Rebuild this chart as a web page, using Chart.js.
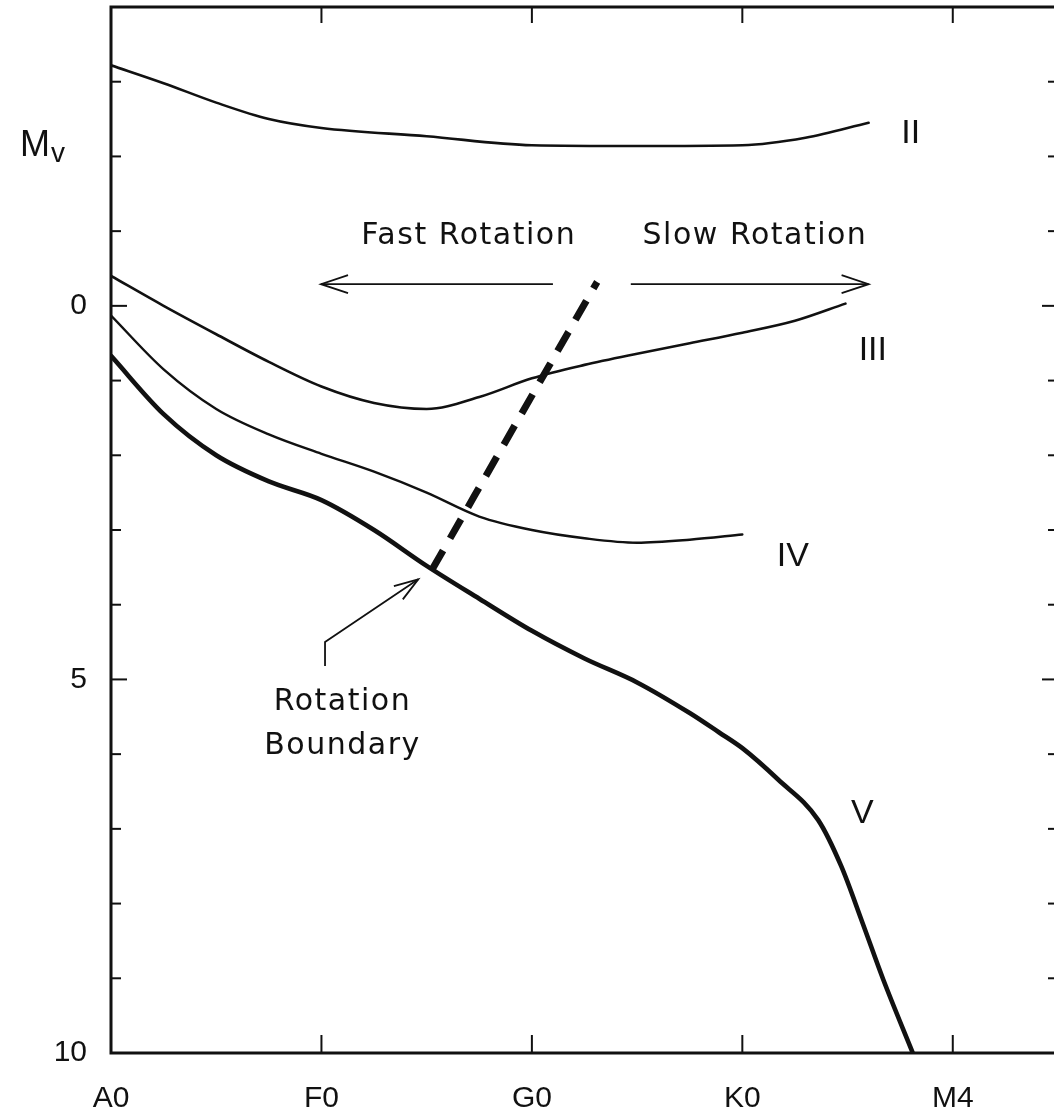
<!DOCTYPE html>
<html>
<head>
<meta charset="utf-8">
<title>Rotation boundary in the HR diagram</title>
<script src="https://cdn.jsdelivr.net/npm/chart.js@4.4.1/dist/chart.umd.min.js"></script>
<style>
  html, body { margin: 0; padding: 0; background: #fff; overflow: hidden; }
  #wrap { position: relative; width: 1070px; height: 1114px; }
</style>
</head>
<body>
<div id="wrap"><canvas id="hrChart"></canvas></div>
<script>
// spectral type labels, placed at x = 0, 1, 2, ...
const spectralTypes = ['A0', 'F0', 'G0', 'K0', 'M4']
// labelled Mv ticks
const mvLabels = [0, 5, 10]

// luminosity class II
const classII_x = [0, 0.25, 0.5, 0.75, 1.0, 1.5, 2.0, 2.5, 3.0, 3.3, 3.6]
const classII_y = [-3.22, -2.98, -2.72, -2.5, -2.38, -2.27, -2.15, -2.14, -2.15, -2.25, -2.45]

// luminosity class III
const classIII_x = [0, 0.25, 0.5, 0.75, 1.0, 1.25, 1.5, 1.75, 2.0, 2.25, 2.5, 2.75, 3.0, 3.25, 3.49]
const classIII_y = [-0.4, 0.0, 0.38, 0.75, 1.08, 1.3, 1.38, 1.22, 0.97, 0.79, 0.64, 0.5, 0.36, 0.2, -0.03]

// luminosity class IV
const classIV_x = [0, 0.25, 0.5, 0.75, 1.0, 1.25, 1.5, 1.75, 2.0, 2.25, 2.5, 2.75, 3.0]
const classIV_y = [0.13, 0.85, 1.38, 1.72, 1.98, 2.22, 2.5, 2.82, 3.0, 3.11, 3.17, 3.13, 3.06]

// main sequence (class V)
const classV_x = [0, 0.25, 0.5, 0.75, 1.0, 1.25, 1.5, 1.75, 2.0, 2.25, 2.5, 2.75, 2.89, 3.0, 3.17, 3.36, 3.47, 3.57, 3.67, 3.81]
const classV_y = [0.67, 1.45, 2.0, 2.35, 2.6, 3.0, 3.48, 3.92, 4.35, 4.72, 5.04, 5.45, 5.71, 5.92, 6.34, 6.88, 7.5, 8.25, 9.02, 10]

// rotation boundary (dashed)
const boundary_x = [1.526, 2.31]
const boundary_y = [3.53, -0.32]

const ink = '#111'
const textFont = '"DejaVu Sans", sans-serif'
const axisFont = '"Liberation Sans Narrow", "Liberation Sans", Arial, sans-serif'

const pts = (xs, ys) => xs.map((x, i) => ({ x: x, y: ys[i] }))

function curve(label, xs, ys, width, dash) {
  return {
    label: label,
    data: pts(xs, ys),
    borderColor: ink,
    borderWidth: width,
    borderDash: dash || [],
    borderCapStyle: dash ? 'butt' : 'round',
    pointRadius: 0,
    fill: false,
    cubicInterpolationMode: 'monotone'
  }
}

function arrowHead(ctx, tx, ty, fx, fy, len, half) {
  const a = Math.atan2(ty - fy, tx - fx)
  ctx.beginPath()
  ctx.moveTo(tx - len * Math.cos(a) + half * Math.sin(a), ty - len * Math.sin(a) - half * Math.cos(a))
  ctx.lineTo(tx, ty)
  ctx.lineTo(tx - len * Math.cos(a) - half * Math.sin(a), ty - len * Math.sin(a) + half * Math.cos(a))
  ctx.stroke()
}

// no extra room for half tick labels at the ends
function noPad(scale) {
  scale.paddingTop = 0
  scale.paddingBottom = 0
  scale.paddingLeft = 0
  scale.paddingRight = 0
}

// frame, inward ticks, arrows and text labels
const sketchPlugin = {
  id: 'sketch',
  afterDraw(chart) {
    const { ctx, chartArea: a, scales: { x, y } } = chart
    const seg = (x1, y1, x2, y2) => { ctx.beginPath(); ctx.moveTo(x1, y1); ctx.lineTo(x2, y2); ctx.stroke() }
    ctx.save()
    ctx.strokeStyle = ink
    ctx.fillStyle = ink
    ctx.lineCap = 'butt'

    ctx.lineWidth = 3
    ctx.strokeRect(a.left, a.top, a.right - a.left, a.bottom - a.top)

    ctx.lineWidth = 2
    y.ticks.forEach(t => {
      if (t.value <= y.min) return
      const py = y.getPixelForValue(t.value)
      const len = t.value % 5 === 0 ? 16 : 10
      seg(a.left, py, a.left + len, py)
      seg(a.right, py, a.right - len, py)
    })
    spectralTypes.forEach((s, i) => {
      if (i === 0) return
      const px = x.getPixelForValue(i)
      seg(px, a.bottom, px, a.bottom - 18)
      seg(px, a.top, px, a.top + 16)
    })

    // rotation arrows
    ctx.lineWidth = 1.8
    const ay = y.getPixelForValue(-0.29)
    const fL = x.getPixelForValue(0.998), fR = x.getPixelForValue(2.10)
    seg(fR, ay, fL, ay)
    arrowHead(ctx, fL, ay, fR, ay, 27, 9)
    const sL = x.getPixelForValue(2.47), sR = x.getPixelForValue(3.60)
    seg(sL, ay, sR, ay)
    arrowHead(ctx, sR, ay, sL, ay, 27, 9)

    // pointer to rotation boundary
    const p0x = x.getPixelForValue(1.017), p0y = y.getPixelForValue(4.82)
    const p1y = y.getPixelForValue(4.50)
    const p2x = x.getPixelForValue(1.46), p2y = y.getPixelForValue(3.66)
    ctx.beginPath()
    ctx.moveTo(p0x, p0y); ctx.lineTo(p0x, p1y); ctx.lineTo(p2x, p2y)
    ctx.stroke()
    arrowHead(ctx, p2x, p2y, p0x, p1y, 24, 8)

    ctx.textAlign = 'center'
    ctx.textBaseline = 'middle'
    ctx.font = '30px ' + textFont
    ctx.letterSpacing = '1.5px'
    ctx.fillText('Fast Rotation', x.getPixelForValue(1.70), y.getPixelForValue(-0.93))
    ctx.fillText('Slow Rotation', x.getPixelForValue(3.06), y.getPixelForValue(-0.93))
    ctx.fillText('Rotation', x.getPixelForValue(1.10), y.getPixelForValue(5.30))
    ctx.fillText('Boundary', x.getPixelForValue(1.10), y.getPixelForValue(5.90))
    ctx.letterSpacing = '0px'

    ctx.font = '34px ' + axisFont
    ctx.fillText('II', x.getPixelForValue(3.80), y.getPixelForValue(-2.30))
    ctx.fillText('III', x.getPixelForValue(3.62), y.getPixelForValue(0.60))
    ctx.fillText('IV', x.getPixelForValue(3.24), y.getPixelForValue(3.36))
    ctx.fillText('V', x.getPixelForValue(3.57), y.getPixelForValue(6.80))

    // axis name Mv
    ctx.textAlign = 'left'
    ctx.textBaseline = 'alphabetic'
    const my = y.getPixelForValue(-2.17) + 12
    ctx.font = '36px ' + axisFont
    ctx.fillText('M', a.left - 91, my)
    const mw = ctx.measureText('M').width
    ctx.font = '28px ' + axisFont
    ctx.fillText('v', a.left - 91 + mw + 1, my + 6)
    ctx.restore()
  }
}

new Chart(document.getElementById('hrChart'), {
  type: 'line',
  data: {
    datasets: [
      curve('II', classII_x, classII_y, 2.6),
      curve('III', classIII_x, classIII_y, 2.6),
      curve('IV', classIV_x, classIV_y, 2.4),
      curve('V', classV_x, classV_y, 4.6),
      curve('Rotation Boundary', boundary_x, boundary_y, 7, [22, 14])
    ]
  },
  options: {
    responsive: true,
    maintainAspectRatio: false,
    animation: false,
    layout: { padding: { top: 7, right: 12, left: 0, bottom: 0 } },
    plugins: {
      legend: { display: false },
      tooltip: { enabled: false }
    },
    scales: {
      x: {
        type: 'linear',
        min: 0,
        max: 4.5,
        grid: { display: false, drawTicks: false },
        border: { display: false },
        ticks: {
          stepSize: 1,
          padding: 28,
          autoSkip: false,
          maxRotation: 0,
          color: ink,
          font: { family: axisFont, size: 30 },
          callback: v => spectralTypes[v] || ''
        },
        afterFit(scale) { scale.height = 61; noPad(scale) }
      },
      y: {
        type: 'linear',
        reverse: true,
        min: -4,
        max: 10,
        grid: { display: false, drawTicks: false },
        border: { display: false },
        ticks: {
          stepSize: 1,
          padding: 24,
          autoSkip: false,
          color: ink,
          font: { family: axisFont, size: 30 },
          callback: v => mvLabels.includes(v) ? String(v) : ''
        },
        afterFit(scale) { scale.width = 111; noPad(scale) }
      }
    }
  },
  plugins: [sketchPlugin]
})
</script>
</body>
</html>
